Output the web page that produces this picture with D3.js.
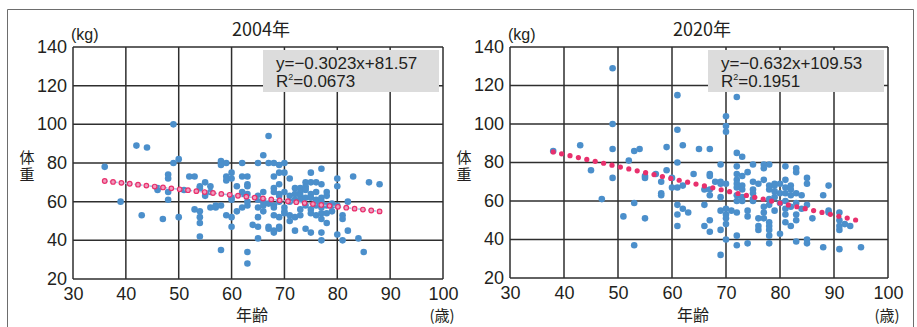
<!DOCTYPE html>
<html>
<head>
<meta charset="utf-8">
<script src="https://cdn.jsdelivr.net/npm/d3@7"></script>
<style>
  body { margin: 0; background: #fff; }
  svg { display: block; }
  text { font-family: "Liberation Sans", Arial, sans-serif; fill: #231f20; }
  .jp { font-family: "Noto Sans CJK JP", sans-serif; }
</style>
</head>
<body>
<svg id="chart" width="917" height="327"></svg>
<script>
// x / y tick values
const xTicks = [30, 40, 50, 60, 70, 80, 90, 100];
const yTicks = [20, 40, 60, 80, 100, 120, 140];

// 2004: [age, weight]
const points2004 = [
  [36,78],[39,60],[42,89],[44,88],[43,53],[46,66],[46,67],[47,51],
  [48,74],[48,72],[48,65],[48,61],[49,100],[49,80],[50,82],[50,52],
  [51,66],[52,73],[53,73],[53,56],[54,68],[54,67],[54,55],[54,52],[54,49],[54,42],
  [55,70],[55,63],[56,68],[56,65],[56,57],[57,58],[57,57],
  [58,81],[58,80],[58,79],[58,58],[58,35],
  [59,80],[59,73],[59,71],[59,53],
  [60,75],[60,72],[60,62],[60,61],[60,52],[60,47],
  [61,68],[61,55],
  [62,80],[62,73],[62,65],[62,64],[62,57],
  [63,73],[63,69],[63,68],[63,64],[63,60],[63,58],[63,34],[63,28],
  [64,48],
  [65,80],[65,63],[65,61],[65,57],[65,52],[65,47],[65,41],
  [66,84],[66,65],[66,60],[66,58],[66,55],
  [67,94],[67,80],[67,59],[67,47],[67,46],
  [68,80],[68,73],[68,67],[68,65],[68,58],[68,57],[68,53],[68,45],[68,44],
  [69,79],[69,75],[69,69],[69,64],[69,63],[69,60],[69,52],[69,47],[69,46],
  [70,80],[70,75],[70,65],[70,57],[70,55],[70,54],
  [71,72],[71,63],[71,60],[71,53],[71,50],
  [72,67],[72,64],[72,61],[72,52],[72,45],
  [73,67],[73,65],[73,63],[73,61],[73,56],[73,53],
  [74,70],[74,68],[74,67],[74,66],[74,62],[74,58],[74,46],
  [75,75],[75,70],[75,64],[75,62],[75,56],[75,54],[75,44],
  [76,70],[76,65],[76,61],[76,58],[76,53],
  [77,77],[77,69],[77,62],[77,60],[77,57],[77,54],[77,51],[77,44],[77,40],
  [78,65],[78,63],[78,58],[78,54],[78,49],
  [79,59],[79,58],[79,55],
  [80,72],[80,68],[80,58],[80,43],
  [81,53],[81,51],[81,40],
  [82,60],[82,45],[83,73],[84,41],[85,34],[86,70],[88,69]
];

// 2020: [age, weight]
const points2020 = [
  [38,86],[43,89],[45,76],[47,61],
  [49,129],[49,100],[49,87],[49,72],
  [51,52],[52,81],[53,86],[53,59],[53,37],[54,87],
  [55,73],[55,72],[55,51],[57,74],
  [58,70],[58,64],[58,63],[59,88],[59,76],
  [60,72],[60,67],
  [61,115],[61,97],[61,80],[61,67],[61,58],[61,53],[61,47],
  [62,89],[62,68],[62,56],[63,54],[64,74],[65,87],
  [66,66],[66,58],[66,47],
  [67,87],[67,74],[67,73],[67,66],[67,63],[67,50],[67,44],
  [68,70],
  [69,79],[69,70],[69,69],[69,62],[69,55],[69,45],[69,32],
  [70,104],[70,99],[70,96],[70,69],[70,56],[70,53],[70,51],[70,48],[70,40],
  [71,55],
  [72,114],[72,85],[72,78],[72,74],[72,71],[72,69],[72,67],[72,63],[72,60],[72,54],[72,42],[72,37],
  [73,83],[73,73],[73,68],[73,66],[73,62],[73,60],
  [74,75],[74,55],[74,52],[74,38],
  [75,79],[75,70],[75,66],[75,64],[75,61],[75,60],
  [76,69],[76,51],[76,47],[76,45],
  [77,79],[77,77],[77,71],[77,57],[77,54],[77,51],
  [78,79],[78,68],[78,66],[78,61],[78,58],[78,49],[78,47],[78,45],[78,42],[78,38],
  [79,69],[79,68],[79,65],[79,62],[79,55],
  [80,69],[80,64],[80,59],[80,43],
  [81,78],[81,71],[81,67],[81,64],[81,60],[81,56],[81,53],[81,49],
  [82,68],[82,66],[82,63],[82,57],[82,47],
  [83,77],[83,75],[83,64],[83,59],[83,53],[83,50],[83,39],
  [84,63],[84,56],
  [85,72],[85,69],[85,58],[85,40],[85,38],
  [86,51],[88,63],[88,36],[89,68],[89,55],[89,54],
  [91,54],[91,50],[91,47],[91,45],[91,35],
  [92,48],[93,47],[95,36]
];

const panels = [
  { title: "2004年", points: points2004, slope: -0.3023, intercept: 81.57,
    eq: "y=−0.3023x+81.57", r2: "0.0673", trendFrom: 36, trendTo: 88, nDots: 34,
    left: 73, right: 443, top: 47, bottom: 279, hollow: true },
  { title: "2020年", points: points2020, slope: -0.632, intercept: 109.53,
    eq: "y=−0.632x+109.53", r2: "0.1951", trendFrom: 38, trendTo: 94, nDots: 37,
    left: 510, right: 888, top: 47, bottom: 278, hollow: false }
];

const svg = d3.select("#chart");

// outer frame
svg.append("path")
  .attr("d", "M7.5,327 V9.5 H913.5 V327")
  .attr("fill", "none")
  .attr("stroke", "#6d6d6d")
  .attr("stroke-width", 1);

panels.forEach(p => {
  const x = d3.scaleLinear().domain([30, 100]).range([p.left, p.right]);
  const y = d3.scaleLinear().domain([20, 140]).range([p.bottom, p.top]);
  const g = svg.append("g");
  const mid = (p.left + p.right) / 2;

  // grid
  g.selectAll(".vx").data(xTicks).enter().append("line")
    .attr("x1", d => x(d)).attr("x2", d => x(d))
    .attr("y1", p.top).attr("y2", p.bottom)
    .attr("stroke", "#2e2e2e").attr("stroke-width", 1.5);
  g.selectAll(".hy").data(yTicks).enter().append("line")
    .attr("x1", p.left).attr("x2", p.right)
    .attr("y1", d => y(d)).attr("y2", d => y(d))
    .attr("stroke", "#2e2e2e").attr("stroke-width", 1.5);

  // axes (labels only)
  const xAxis = g.append("g")
    .attr("transform", `translate(0,${p.bottom})`)
    .call(d3.axisBottom(x).tickValues(xTicks).tickSize(0).tickPadding(7));
  const yAxis = g.append("g")
    .attr("transform", `translate(${p.left},0)`)
    .call(d3.axisLeft(y).tickValues(yTicks).tickSize(0).tickPadding(6));
  [xAxis, yAxis].forEach(a => {
    a.select(".domain").remove();
    a.selectAll("text")
      .style("font-family", '"Liberation Sans", Arial, sans-serif')
      .style("font-size", "18px").attr("fill", "#231f20");
  });
  yAxis.selectAll("text").attr("dy", "0.3em");
  xAxis.selectAll("text").attr("dy", "0.8em");

  // equation box
  g.append("rect")
    .attr("x", p.right - 180).attr("y", 50)
    .attr("width", 176).attr("height", 42)
    .attr("fill", "#dcdcdc");
  g.append("text").attr("x", p.right - 167).attr("y", 69)
    .style("font-size", "17px").text(p.eq);
  const r = g.append("text").attr("x", p.right - 167).attr("y", 87)
    .style("font-size", "17px");
  r.append("tspan").text("R");
  r.append("tspan").attr("dy", -7).style("font-size", "9px").text("2");
  r.append("tspan").attr("dy", 7).text("=" + p.r2);

  // points
  g.selectAll(".pt").data(p.points).enter().append("circle")
    .attr("cx", d => x(d[0])).attr("cy", d => y(d[1]))
    .attr("r", 3.3)
    .attr("fill", "#4b8fcb");

  // trend line
  const f = v => p.slope * v + p.intercept;
  if (p.hollow) {
    g.append("line")
      .attr("x1", x(p.trendFrom)).attr("y1", y(f(p.trendFrom)))
      .attr("x2", x(p.trendTo)).attr("y2", y(f(p.trendTo)))
      .attr("stroke", "#9cc0e2").attr("stroke-width", 1.5)
      .attr("stroke-dasharray", "3,2");
  }
  const trend = d3.range(p.nDots).map(i =>
    p.trendFrom + (p.trendTo - p.trendFrom) * i / (p.nDots - 1));
  g.selectAll(".tr").data(trend).enter().append("circle")
    .attr("cx", d => x(d)).attr("cy", d => y(f(d)))
    .attr("r", p.hollow ? 2.3 : 2.6)
    .attr("fill", p.hollow ? "#f29bbd" : "#e8306d")
    .attr("stroke", p.hollow ? "#e8306d" : "none")
    .attr("stroke-width", 1.2);

  // titles
  g.append("text").attr("class", "jp")
    .attr("x", mid + 3).attr("y", 36)
    .attr("text-anchor", "middle")
    .style("font-size", "18px").text(p.title);
  g.append("text")
    .attr("x", p.left - 2).attr("y", 40)
    .style("font-size", "16px").text("(kg)");
  g.append("text").attr("class", "jp")
    .attr("x", mid - 6).attr("y", 321)
    .attr("text-anchor", "middle")
    .style("font-size", "16px").text("年齢");
  g.append("text").attr("class", "jp")
    .attr("x", p.right - 1).attr("y", 321)
    .attr("text-anchor", "middle")
    .style("font-size", "15px").text("(歳)");
  // vertical y-axis title
  g.append("text").attr("class", "jp")
    .attr("x", p.left - 46).attr("y", 150)
    .style("writing-mode", "vertical-rl")
    .style("letter-spacing", "2px")
    .style("font-size", "15px").text("体重");
});
</script>
</body>
</html>
